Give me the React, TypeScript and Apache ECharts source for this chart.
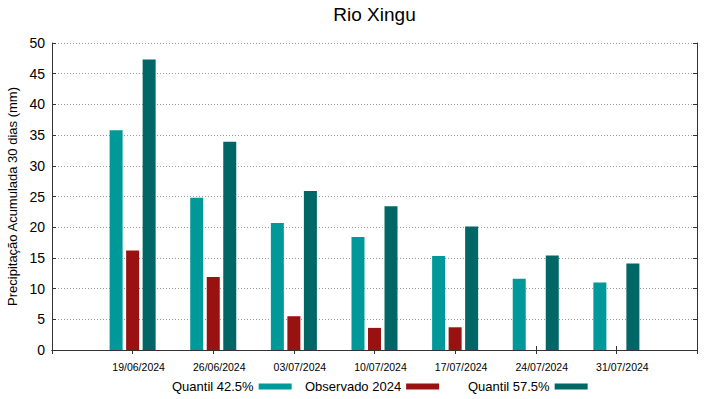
import React, { useEffect, useRef } from "react";
import * as echarts from "echarts";

const categories = ["19/06/2024", "26/06/2024", "03/07/2024", "10/07/2024", "17/07/2024", "24/07/2024", "31/07/2024"];
const quantil425 = [35.8, 24.8, 20.7, 18.4, 15.3, 11.6, 11.0];
const observado2024: (number | null)[] = [16.2, 11.9, 5.5, 3.6, 3.7, null, null];
const quantil575 = [47.3, 33.9, 25.9, 23.4, 20.1, 15.4, 14.1];
const seriesNames = ["Quantil 42.5%", "Observado 2024", "Quantil 57.5%"];
const colors = ["#009999", "#991111", "#006666"];

export default function App() {
  const ref = useRef<HTMLDivElement>(null);
  useEffect(() => {
    if (!ref.current) return;
    const chart = echarts.init(ref.current, null, { renderer: "svg" });
    const slots = ["", ...categories, ""];
    const pad = (arr: (number | null)[]) => [null, ...arr, null];
    const font = "Liberation Sans, Arial, sans-serif";
    const axisLine = { show: true, lineStyle: { color: "#333", width: 1 } };
    const legendLefts = [172, 305, 468];
    chart.setOption({
      animation: false,
      textStyle: { fontFamily: font },
      title: {
        text: "Rio Xingu",
        left: 374.5,
        textAlign: "center",
        top: 5,
        padding: 0,
        textStyle: { fontFamily: font, fontSize: 19, fontWeight: "normal", color: "#000" },
      },
      legend: seriesNames.map((n, i) => ({
        data: [n],
        left: legendLefts[i],
        top: 380,
        padding: 0,
        align: "right",
        icon: "rect",
        itemWidth: 33,
        itemHeight: 6,
        selectedMode: false,
        textStyle: { fontFamily: font, fontSize: 13, color: "#000" },
      })),
      grid: { left: 52, right: 22, top: 43, bottom: 49, containLabel: false, outerBoundsMode: "none" },
      xAxis: [
        {
          type: "category",
          data: slots,
          boundaryGap: false,
          position: "bottom",
          axisLine,
          axisTick: { show: true, inside: true, length: 4, lineStyle: { color: "#333" } },
          axisLabel: { interval: 0, fontSize: 10.5, color: "#000", margin: 11, padding: [0, 0, 0, 12], fontFamily: font },
          splitLine: { show: false },
        },
        {
          type: "category",
          data: slots,
          boundaryGap: false,
          position: "top",
          axisLine,
          axisTick: { show: true, inside: true, length: 4, lineStyle: { color: "#333" } },
          axisLabel: { show: false },
          splitLine: { show: false },
        },
      ],
      yAxis: [
        {
          type: "value",
          min: 0,
          max: 50,
          interval: 5,
          position: "left",
          name: "Precipitação Acumulada 30 dias (mm)",
          nameLocation: "middle",
          nameGap: 24,
          nameTextStyle: { fontFamily: font, fontSize: 13, color: "#000" },
          axisLine,
          axisTick: { show: true, inside: true, length: 4, lineStyle: { color: "#333" } },
          axisLabel: { fontSize: 14, color: "#000", margin: 7, fontFamily: font },
          splitLine: { show: true, lineStyle: { color: "#999", type: [1, 2], width: 1 } },
        },
        {
          type: "value",
          min: 0,
          max: 50,
          interval: 5,
          position: "right",
          axisLine,
          axisTick: { show: true, inside: true, length: 4, lineStyle: { color: "#333" } },
          axisLabel: { show: false },
          splitLine: { show: false },
        },
      ],
      series: [
        { name: seriesNames[0], type: "bar", data: pad(quantil425), barWidth: 13, barGap: "27%", itemStyle: { color: colors[0] } },
        { name: seriesNames[1], type: "bar", data: pad(observado2024), barWidth: 13, barGap: "27%", itemStyle: { color: colors[1] } },
        { name: seriesNames[2], type: "bar", data: pad(quantil575), barWidth: 13, barGap: "27%", itemStyle: { color: colors[2] } },
      ],
    });
    return () => chart.dispose();
  }, []);
  return <div ref={ref} style={{ width: 719, height: 399, position: "absolute", left: 0, top: 0 }} />;
}
